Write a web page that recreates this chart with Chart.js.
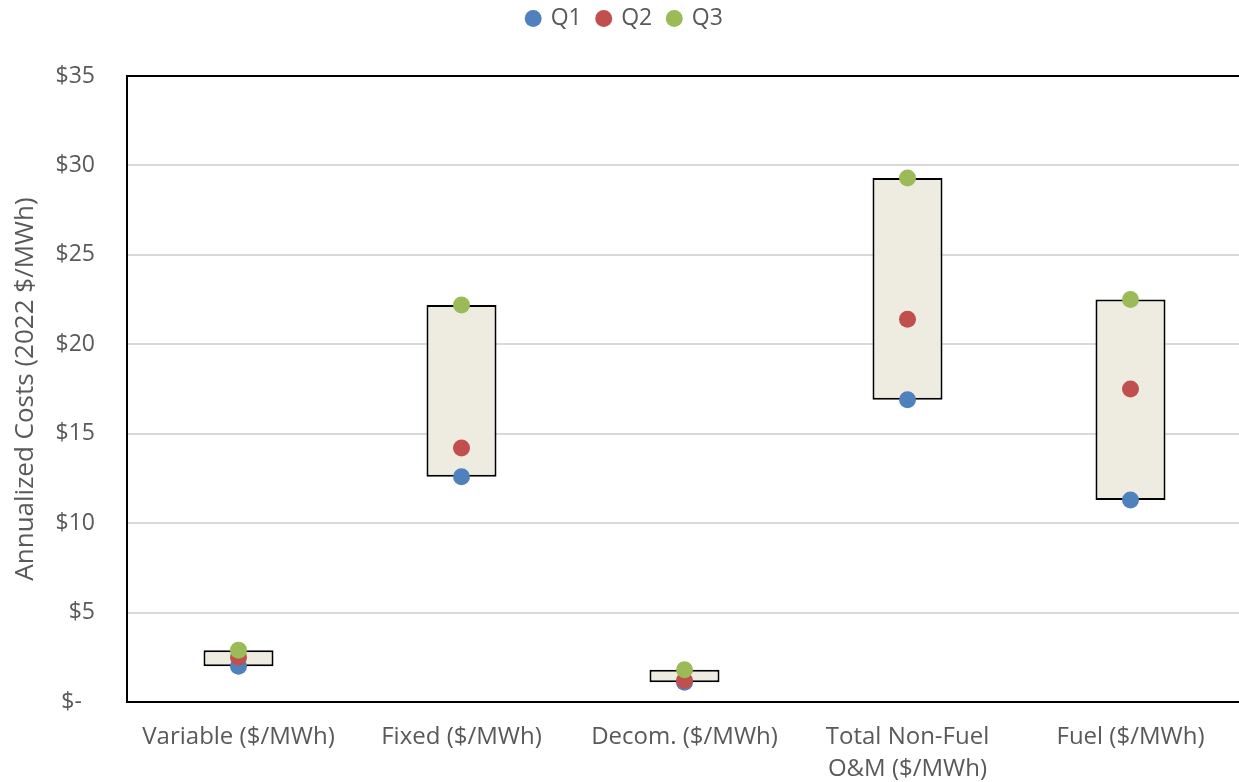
<!DOCTYPE html>
<html>
<head>
<meta charset="utf-8">
<script src="https://cdn.jsdelivr.net/npm/chart.js@4.4.1/dist/chart.umd.min.js"></script>
<style>
  html, body { margin: 0; padding: 0; background: #fff; overflow: hidden; }
  #wrap { width: 1242px; height: 782px; position: relative; }
</style>
</head>
<body>
<div id="wrap"><canvas id="costChart"></canvas></div>
<script>
// categories and quartile values
const categories = [
    'Variable ($/MWh)',
    'Fixed ($/MWh)',
    'Decom. ($/MWh)',
    ['Total Non-Fuel', 'O&M ($/MWh)'],
    'Fuel ($/MWh)'
];
const q1Values = [2.0, 12.6, 1.1, 16.9, 11.3];
const q2Values = [2.5, 14.2, 1.2, 21.4, 17.5];
const q3Values = [2.9, 22.2, 1.8, 29.3, 22.5];

// tick labels in accounting style
const tickValues = [0, 5, 10, 15, 20, 25, 30, 35];
const tickLabels = ['$-\u2007', '$5', '$10', '$15', '$20', '$25', '$30', '$35'];

const textColor = '#595959';
const fontFamily = '"Open Sans", sans-serif';

// box from Q1 to Q3
const boxRanges = q1Values.map((v, i) => [v, q3Values[i]]);

const plotFrame = {
    id: 'plotFrame',
    afterInit(chart) {
        // leave room under the legend and lift its row a little
        const legend = chart.legend;
        const fit = legend.fit;
        legend.fit = function() {
            fit.call(this);
            this.height = 76;
        };
        const draw = legend.draw;
        legend.draw = function() {
            this.ctx.save();
            this.ctx.translate(4, -9);
            draw.call(this);
            this.ctx.restore();
        };
    },
    afterDraw(chart) {
        // black frame round the plot area
        const { ctx, chartArea: { left, top, width, height } } = chart;
        ctx.save();
        ctx.strokeStyle = '#000';
        ctx.lineWidth = 2;
        ctx.strokeRect(left, top, width, height);
        ctx.restore();
    }
};

function pointSet(label, data, color, order) {
    return {
        type: 'line',
        label: label,
        data: data,
        showLine: false,
        pointStyle: 'circle',
        pointRadius: 8.5,
        pointHoverRadius: 8.5,
        pointBackgroundColor: color,
        pointBorderColor: color,
        backgroundColor: color,
        borderColor: color,
        borderWidth: 0,
        order: order
    };
}

new Chart(document.getElementById('costChart'), {
    type: 'bar',
    data: {
        labels: categories,
        datasets: [
            {
                label: 'range',
                data: boxRanges,
                backgroundColor: '#EEECE1',
                borderColor: '#000',
                borderWidth: 2,
                borderSkipped: false,
                categoryPercentage: 1,
                barPercentage: 0.314,
                order: 4
            },
            pointSet('Q1', q1Values, '#4F81BD', 3),
            pointSet('Q2', q2Values, '#C0504D', 2),
            pointSet('Q3', q3Values, '#9BBB59', 1)
        ]
    },
    options: {
        responsive: true,
        maintainAspectRatio: false,
        animation: false,
        layout: { autoPadding: false, padding: 0 },
        plugins: {
            legend: {
                position: 'top',
                labels: {
                    filter: item => item.text !== 'range',
                    sort: (a, b) => a.datasetIndex - b.datasetIndex,
                    usePointStyle: true,
                    pointStyle: 'circle',
                    boxWidth: 12,
                    boxHeight: 12,
                    padding: 16,
                    color: textColor,
                    font: { family: fontFamily, size: 23 }
                }
            },
            tooltip: { enabled: true }
        },
        scales: {
            x: {
                grid: { display: false },
                border: { display: false },
                ticks: {
                    color: textColor,
                    font: { family: fontFamily, size: 24, lineHeight: 1.3 },
                    maxRotation: 0,
                    padding: 12
                },
                afterFit(scale) { scale.height = 80; }
            },
            y: {
                min: 0,
                max: 35,
                afterBuildTicks(scale) {
                    scale.ticks = tickValues.map(v => ({ value: v }));
                },
                grid: { color: '#D9D9D9', lineWidth: 2, drawTicks: false },
                border: { display: false },
                ticks: {
                    color: textColor,
                    font: { family: fontFamily, size: 23 },
                    padding: 32,
                    callback: (value) => tickLabels[tickValues.indexOf(value)]
                },
                title: {
                    display: true,
                    text: 'Annualized Costs (2022 $/MWh)',
                    color: textColor,
                    font: { family: fontFamily, size: 26 },
                    padding: { top: 10, bottom: 0 }
                },
                afterFit(scale) { scale.width = 127; }
            }
        }
    },
    plugins: [plotFrame]
});
</script>
</body>
</html>
